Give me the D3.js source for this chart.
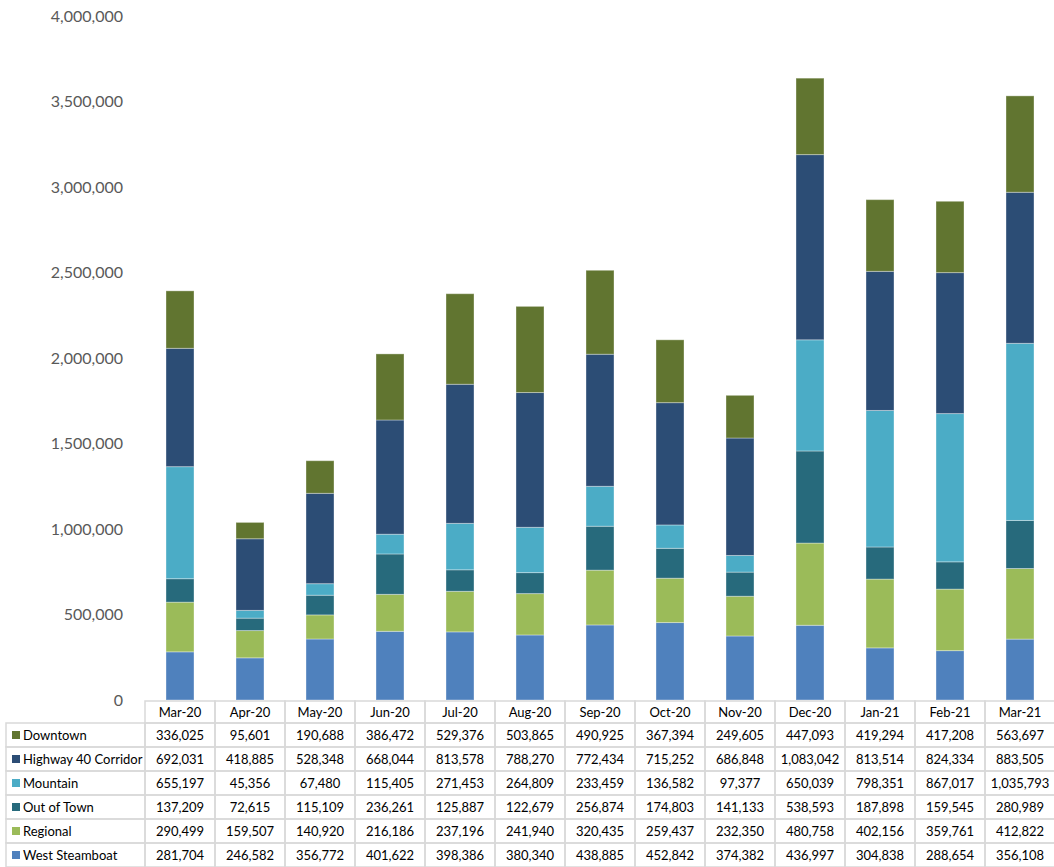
<!DOCTYPE html>
<html><head><meta charset="utf-8">
<script src="https://cdn.jsdelivr.net/npm/d3@7"></script>
<style>body{margin:0;background:#fff;} svg{display:block;font-family:Lato,"Open Sans",sans-serif;}</style>
</head><body><svg id="c" width="1054" height="867"></svg>
<script>
const months = ["Mar-20","Apr-20","May-20","Jun-20","Jul-20","Aug-20","Sep-20","Oct-20","Nov-20","Dec-20","Jan-21","Feb-21","Mar-21"];
const seriesNames = ["Downtown","Highway 40 Corridor","Mountain","Out of Town","Regional","West Steamboat"];
const downtown = [336025,95601,190688,386472,529376,503865,490925,367394,249605,447093,419294,417208,563697];
const highway40 = [692031,418885,528348,668044,813578,788270,772434,715252,686848,1083042,813514,824334,883505];
const mountain = [655197,45356,67480,115405,271453,264809,233459,136582,97377,650039,798351,867017,1035793];
const outOfTown = [137209,72615,115109,236261,125887,122679,256874,174803,141133,538593,187898,159545,280989];
const regional = [290499,159507,140920,216186,237196,241940,320435,259437,232350,480758,402156,359761,412822];
const westSteamboat = [281704,246582,356772,401622,398386,380340,438885,452842,374382,436997,304838,288654,356108];
const yTicks = [0,500000,1000000,1500000,2000000,2500000,3000000,3500000,4000000];

const colors = {"Downtown":"#617530","Highway 40 Corridor":"#2c4d75","Mountain":"#4bacc6","Out of Town":"#276a7c","Regional":"#9bbb59","West Steamboat":"#4f81bd"};
const valuesBy = {"Downtown":downtown,"Highway 40 Corridor":highway40,"Mountain":mountain,"Out of Town":outOfTown,"Regional":regional,"West Steamboat":westSteamboat};

const svg = d3.select("#c");
const x0 = 145, colW = 70;
const x = d3.scaleBand().domain(months).range([x0, x0 + colW*months.length]).paddingInner(0.6).paddingOuter(0.3);
const y = d3.scaleLinear().domain([0,4000000]).range([700,16]);

// y axis labels
const yAxis = d3.axisLeft(y).tickValues(yTicks).tickFormat(d3.format(",")).tickSize(0).tickPadding(0);
const ga = svg.append("g").attr("transform","translate(123,0)").call(yAxis);
ga.select(".domain").remove();
ga.selectAll("text").attr("font-size",16).attr("fill","#595959").attr("font-family","Lato,'Open Sans',sans-serif");

// stacked bars: bottom order West Steamboat, Regional, Out of Town, Mountain, Highway 40, Downtown
const stackOrder = ["West Steamboat","Regional","Out of Town","Mountain","Highway 40 Corridor","Downtown"];
const rows = months.map((m,i)=>{const r={month:m}; seriesNames.forEach(s=>r[s]=valuesBy[s][i]); return r;});
const stacked = d3.stack().keys(stackOrder)(rows);
svg.append("g").selectAll("g").data(stacked).join("g")
  .attr("fill",d=>colors[d.key])
  .selectAll("rect").data(d=>d).join("rect")
  .attr("x",d=>x(d.data.month))
  .attr("width",x.bandwidth())
  .attr("y",d=>y(d[1]))
  .attr("height",d=>y(d[0])-y(d[1]))
  .attr("stroke","rgba(255,255,255,0.35)").attr("stroke-width",1);

// data table
const tbl = svg.append("g");
const headerTop = 701, headerH = 22, rowH = 24;
const gridColor = "#d9d9d9";
const tableRight = x0 + colW*months.length;
const tableLeft = 6;
// header cells
months.forEach((m,i)=>{
  tbl.append("rect").attr("x",x0+i*colW).attr("y",headerTop).attr("width",colW).attr("height",headerH)
    .attr("fill","none").attr("stroke",gridColor).attr("stroke-width",1.5);
  tbl.append("text").attr("x",x0+i*colW+colW/2).attr("y",headerTop+headerH/2).attr("dy","0.35em")
    .attr("text-anchor","middle").attr("font-size",13).attr("fill","#000").text(m);
});
seriesNames.forEach((s,r)=>{
  const ry = headerTop+headerH+r*rowH;
  tbl.append("rect").attr("x",tableLeft).attr("y",ry).attr("width",x0-tableLeft).attr("height",rowH)
    .attr("fill","none").attr("stroke",gridColor).attr("stroke-width",1.5);
  tbl.append("rect").attr("x",12).attr("y",ry+rowH/2-4).attr("width",8).attr("height",8).attr("fill",colors[s]);
  tbl.append("text").attr("x",23).attr("y",ry+rowH/2).attr("dy","0.35em").attr("font-size",13).attr("fill","#000").text(s);
  months.forEach((m,i)=>{
    tbl.append("rect").attr("x",x0+i*colW).attr("y",ry).attr("width",colW).attr("height",rowH)
      .attr("fill","none").attr("stroke",gridColor).attr("stroke-width",1.5);
    tbl.append("text").attr("x",x0+i*colW+colW/2).attr("y",ry+rowH/2).attr("dy","0.35em")
      .attr("text-anchor","middle").attr("font-size",13).attr("fill","#000").text(d3.format(",")(valuesBy[s][i]));
  });
});
</script></body></html>
